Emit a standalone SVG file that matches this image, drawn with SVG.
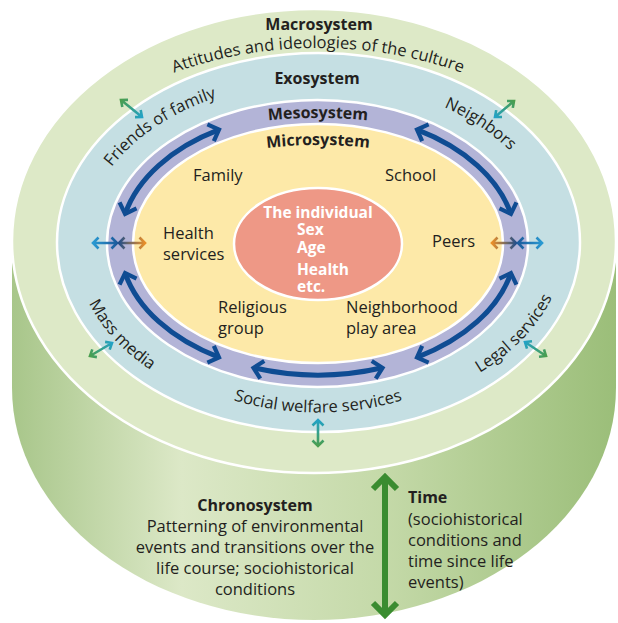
<svg xmlns="http://www.w3.org/2000/svg" width="618" height="623" viewBox="0 0 618 623">
  <style>
    .t{font-family:"Open Sans","Liberation Sans",Arial,sans-serif;fill:#231f20;font-size:16.5px}
    .b{font-weight:700;font-size:16px}
    .w{fill:#ffffff;font-weight:700;font-size:15.5px}
    .ring{stroke:#ffffff;stroke-width:2.5}
    .meso{fill:none;stroke:#0f4c93;stroke-width:5;marker-start:url(#hd);marker-end:url(#hd)}
    .sm{fill:none;stroke-width:2.6;stroke-linejoin:miter}
  </style>
  <defs>
    <linearGradient id="cyl" x1="12" y1="0" x2="616" y2="0" gradientUnits="userSpaceOnUse">
      <stop offset="0" stop-color="#a8c68a"/>
      <stop offset="0.28" stop-color="#dce8c7"/>
      <stop offset="0.62" stop-color="#c4d9a8"/>
      <stop offset="1" stop-color="#9bbe79"/>
    </linearGradient>
    <marker id="hd" markerUnits="userSpaceOnUse" markerWidth="24" markerHeight="24" viewBox="-14 -12 24 24" refX="0" refY="0" orient="auto-start-reverse">
      <path d="M -9,-9 L 0,0 L -9,9" fill="none" stroke="#0f4c93" stroke-width="4.2"/>
    </marker>
    <!-- gradients for the small two-way arrows -->
    <linearGradient id="gL1" x1="93" y1="0" x2="117" y2="0" gradientUnits="userSpaceOnUse"><stop offset="0" stop-color="#2a9ad2"/><stop offset="1" stop-color="#1c5b9c"/></linearGradient>
    <linearGradient id="gL2" x1="119" y1="0" x2="145" y2="0" gradientUnits="userSpaceOnUse"><stop offset="0" stop-color="#234f8a"/><stop offset="1" stop-color="#ea8f28"/></linearGradient>
    <linearGradient id="gR1" x1="492" y1="0" x2="516" y2="0" gradientUnits="userSpaceOnUse"><stop offset="0" stop-color="#ea8f28"/><stop offset="1" stop-color="#234f8a"/></linearGradient>
    <linearGradient id="gR2" x1="518" y1="0" x2="542" y2="0" gradientUnits="userSpaceOnUse"><stop offset="0" stop-color="#1c5b9c"/><stop offset="1" stop-color="#2a9ad2"/></linearGradient>
    <linearGradient id="gTL" x1="121" y1="100" x2="142" y2="117" gradientUnits="userSpaceOnUse"><stop offset="0" stop-color="#4a9e4e"/><stop offset="1" stop-color="#22a2c6"/></linearGradient>
    <linearGradient id="gTR" x1="495" y1="117" x2="514" y2="101" gradientUnits="userSpaceOnUse"><stop offset="0" stop-color="#22a2c6"/><stop offset="1" stop-color="#4a9e4e"/></linearGradient>
    <linearGradient id="gMM" x1="90" y1="356" x2="112" y2="343" gradientUnits="userSpaceOnUse"><stop offset="0" stop-color="#4a9e4e"/><stop offset="1" stop-color="#22a2c6"/></linearGradient>
    <linearGradient id="gLS" x1="525" y1="342" x2="546" y2="356" gradientUnits="userSpaceOnUse"><stop offset="0" stop-color="#22a2c6"/><stop offset="1" stop-color="#4a9e4e"/></linearGradient>
    <linearGradient id="gB" x1="0" y1="420" x2="0" y2="446" gradientUnits="userSpaceOnUse"><stop offset="0" stop-color="#22a2c6"/><stop offset="1" stop-color="#4a9e4e"/></linearGradient>
    <!-- baselines for curved labels -->
    <path id="pAtt" d="M 41.7,176.3 A 294 195 0 0 1 594.3,176.3"/>
    <path id="pMeso" d="M 188,134.8 A 260 125.5 0 0 1 448,134.8"/>
    <path id="pMicro" d="M 213,158.2 A 210 98.5 0 0 1 423,158.2"/>
    <path id="pFriends" d="M 87.6,215.4 A 234 162 0 0 1 269.3,85"/>
    <path id="pNeigh" d="M 420,98 A 234 162 0 0 1 527,170"/>
    <path id="pMass" d="M 82.3,288.5 A 244 174 0 0 0 164.4,378.7"/>
    <path id="pLegal" d="M 418,400 A 246 172 0 0 0 564.5,232"/>
    <path id="pSocial" d="M 145.6,352.1 A 225 169 0 0 0 490.4,352.1"/>
  </defs>

  <!-- chronosystem cylinder -->
  <g id="chronosystem">
    <path d="M 12,241 L 12,388 A 302 232 0 0 0 616,388 L 616,241 Z" fill="url(#cyl)"/>
  </g>

  <!-- nested systems -->
  <g id="macrosystem">
    <ellipse class="ring" cx="314" cy="241" rx="302" ry="232" fill="#dde9c7"/>
  </g>
  <g id="exosystem">
    <ellipse class="ring" cx="318.5" cy="242.5" rx="261.5" ry="189.5" fill="#c5dfe3"/>
  </g>
  <g id="mesosystem">
    <ellipse class="ring" cx="317.5" cy="243.5" rx="210.5" ry="143.5" fill="#b3b4d7"/>
  </g>
  <g id="microsystem">
    <ellipse class="ring" cx="318" cy="243.5" rx="185" ry="119.5" fill="#fde9a8"/>
  </g>
  <g id="individual">
    <ellipse class="ring" cx="318" cy="244" rx="84" ry="56" fill="#ee9886"/>
    <text class="t w" x="318" y="218" text-anchor="middle">The individual</text>
    <text class="t w" x="297" y="235">Sex</text>
    <text class="t w" x="297" y="253">Age</text>
    <text class="t w" x="297" y="275">Health</text>
    <text class="t w" x="297" y="292">etc.</text>
  </g>

  <!-- connectors -->
  <g id="connectors">
    <path class="meso" d="M 125.1,213.9 A 198 131.5 0 0 1 219,129.6"/>
    <path class="meso" d="M 417,129.6 A 198 131.5 0 0 1 510.9,213.9"/>
    <path class="meso" d="M 125.1,273.1 A 198 131.5 0 0 0 219,357.4"/>
    <path class="meso" d="M 510.9,273.1 A 198 131.5 0 0 1 417,357.4"/>
    <path class="meso" d="M 253.5,367.8 A 198 131.5 0 0 0 382.5,367.8"/>

    <path class="sm" stroke="url(#gL1)" d="M93,243 L117,243 M98.5,237.5 L93,243 L98.5,248.5 M111.5,237.5 L117,243 L111.5,248.5"/>
    <path class="sm" stroke="url(#gL2)" d="M119,243 L145,243 M124.5,237.5 L119,243 L124.5,248.5 M139.5,237.5 L145,243 L139.5,248.5"/>
    <path class="sm" stroke="url(#gR1)" d="M492,243 L516,243 M497.5,237.5 L492,243 L497.5,248.5 M510.5,237.5 L516,243 L510.5,248.5"/>
    <path class="sm" stroke="url(#gR2)" d="M518,243 L542,243 M523.5,237.5 L518,243 L523.5,248.5 M536.5,237.5 L542,243 L536.5,248.5"/>

    <path class="sm" stroke="url(#gTL)" d="M121,100 L142,117 M140.7,110.1 L142,117 L135,117.1 M122.3,106.9 L121,100 L128,99.9"/>
    <path class="sm" stroke="url(#gTR)" d="M495,117 L514,101 M507,101 L514,101 L512.8,107.9 M502,117 L495,117 L496.2,110.1"/>
    <path class="sm" stroke="url(#gMM)" d="M90,356 L112,343 M105.1,341.9 L112,343 L109.7,349.6 M96.9,357.1 L90,356 L92.3,349.4"/>
    <path class="sm" stroke="url(#gLS)" d="M525,342 L546,356 M544,349.3 L546,356 L539,356.8 M527,348.7 L525,342 L532,341.2"/>
    <path class="sm" stroke="url(#gB)" d="M318,420 L318,446 M312.5,425.5 L318,420 L323.5,425.5 M312.5,440.5 L318,446 L323.5,440.5"/>

    <path d="M385,477 L385,615 M373,489 L385,477 L397,489 M373,603 L385,615 L397,603" fill="none" stroke="#3a8c30" stroke-width="6"/>
  </g>

  <!-- labels -->
  <g id="labels">
    <text class="t b" x="319" y="30" text-anchor="middle">Macrosystem</text>
    <text class="t" text-anchor="middle"><textPath href="#pAtt" startOffset="50%">Attitudes and ideologies of the culture</textPath></text>
    <text class="t b" x="317" y="84" text-anchor="middle">Exosystem</text>
    <text class="t b" text-anchor="middle"><textPath href="#pMeso" startOffset="50%">Mesosystem</textPath></text>
    <text class="t b" text-anchor="middle"><textPath href="#pMicro" startOffset="50%">Microsystem</textPath></text>

    <text class="t" text-anchor="middle"><textPath href="#pFriends" startOffset="50%">Friends of family</textPath></text>
    <text class="t" text-anchor="middle"><textPath href="#pNeigh" startOffset="50%">Neighbors</textPath></text>
    <text class="t" text-anchor="middle"><textPath href="#pMass" startOffset="50%">Mass media</textPath></text>
    <text class="t" text-anchor="middle"><textPath href="#pLegal" startOffset="50%">Legal services</textPath></text>
    <text class="t" text-anchor="middle"><textPath href="#pSocial" startOffset="50%">Social welfare services</textPath></text>

    <text class="t" x="193" y="181">Family</text>
    <text class="t" x="385" y="181">School</text>
    <text class="t" x="163" y="239">Health</text>
    <text class="t" x="163" y="260">services</text>
    <text class="t" x="432" y="247">Peers</text>
    <text class="t" x="218" y="313">Religious</text>
    <text class="t" x="218" y="334">group</text>
    <text class="t" x="346" y="313">Neighborhood</text>
    <text class="t" x="346" y="334">play area</text>

    <text class="t b" x="255" y="511" text-anchor="middle">Chronosystem</text>
    <text class="t" x="255" y="532" text-anchor="middle">Patterning of environmental</text>
    <text class="t" x="255" y="553" text-anchor="middle">events and transitions over the</text>
    <text class="t" x="255" y="574" text-anchor="middle">life course; sociohistorical</text>
    <text class="t" x="255" y="595" text-anchor="middle">conditions</text>

    <text class="t b" x="408" y="503">Time</text>
    <text class="t" x="408" y="525">(sociohistorical</text>
    <text class="t" x="408" y="546">conditions and</text>
    <text class="t" x="408" y="567">time since life</text>
    <text class="t" x="408" y="588">events)</text>
  </g>
</svg>
